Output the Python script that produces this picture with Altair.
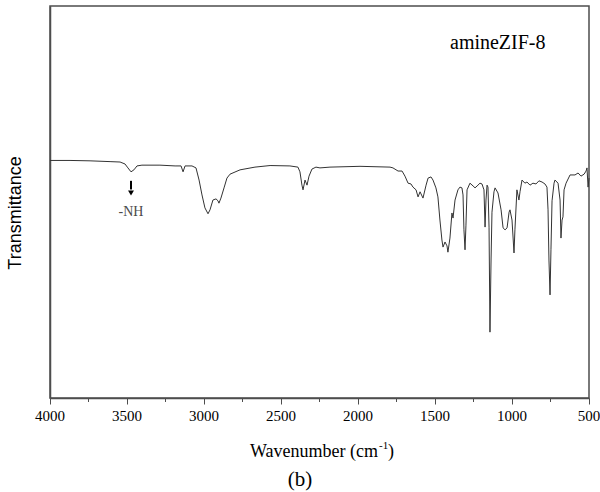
import altair as alt
import pandas as pd

# Wavenumber (cm-1) and transmittance (a.u.)
wavenumber = [4000, 3870, 3740, 3610, 3545, 3513, 3494, 3474, 3455, 3435, 3403, 3286, 3188, 3149, 3136, 3123,
              3078, 3052, 3032, 3013, 2994, 2974, 2961, 2942, 2922, 2909, 2903, 2890, 2870, 2851, 2831, 2766,
              2669, 2571, 2442, 2390, 2377, 2364, 2357, 2344, 2331, 2318, 2299, 2273, 2247, 2182, 1987, 1792,
              1773, 1740, 1714, 1695, 1675, 1656, 1643, 1623, 1610, 1597, 1578, 1558, 1545, 1526, 1513, 1494,
              1481, 1468, 1455, 1448, 1435, 1422, 1416, 1403, 1390, 1383, 1370, 1351, 1338, 1325, 1318, 1312,
              1305, 1299, 1292, 1273, 1253, 1240, 1221, 1208, 1195, 1182, 1175, 1169, 1162, 1156, 1149, 1143,
              1136, 1130, 1117, 1110, 1091, 1071, 1058, 1045, 1032, 1019, 1013, 1000, 987, 981, 968, 955,
              948, 935, 916, 903, 883, 864, 844, 825, 805, 786, 773, 766, 760, 753, 747, 740,
              727, 721, 708, 701, 688, 682, 675, 669, 662, 649, 623, 591, 571, 552, 532, 519,
              513, 506, 500]
transmittance = [60.6, 60.6, 60.5, 60.3, 60.2, 59.7, 58.7, 57.7, 58.2, 59.2, 59.4, 59.4, 59.2, 59.2, 57.7, 59.2,
                 59.2, 58.7, 55.6, 51.8, 48.5, 47.0, 48.0, 50.5, 50.8, 50.3, 49.7, 51.0, 53.6, 56.1, 57.1, 58.2,
                 58.9, 59.3, 59.2, 58.9, 57.7, 54.3, 53.1, 55.6, 54.3, 56.6, 58.4, 58.9, 58.7, 58.9, 59.1, 58.9,
                 58.7, 57.9, 57.9, 56.6, 54.8, 54.6, 53.8, 53.1, 51.3, 52.6, 51.0, 54.3, 56.1, 56.4, 55.6, 53.6,
                 51.3, 45.4, 40.3, 38.5, 39.8, 38.8, 37.2, 40.8, 47.2, 45.9, 50.5, 53.1, 53.8, 53.6, 51.8, 42.9,
                 37.8, 44.1, 53.1, 54.8, 54.1, 53.6, 54.3, 54.8, 54.6, 53.1, 43.6, 50.5, 54.3, 53.8, 43.4, 16.8,
                 35.2, 47.4, 52.6, 53.6, 52.3, 48.0, 43.4, 42.9, 43.4, 47.4, 48.0, 45.4, 37.0, 42.9, 53.1, 50.5,
                 52.6, 55.6, 54.8, 55.1, 54.3, 54.8, 54.6, 55.4, 55.1, 54.6, 53.8, 48.0, 35.2, 26.3, 37.8, 50.3,
                 54.8, 55.6, 55.1, 54.8, 50.5, 40.8, 45.4, 46.2, 53.1, 54.8, 56.9, 56.9, 57.4, 56.6, 57.1, 57.9,
                 58.7, 53.8, 56.1]

major_ticks = [4000, 3500, 3000, 2500, 2000, 1500, 1000, 500]
major_labels = ["4000", "3500", "3000", "2500", "2000", "1500", "1000", "500"]
minor_ticks = [3750, 3250, 2750, 2250, 1750, 1250, 750]

spec_df = pd.DataFrame({"wn": wavenumber, "T": transmittance})
minor_df = pd.DataFrame({"wn": minor_ticks})
major_df = pd.DataFrame({"wn": major_ticks, "lab": major_labels})

W, H = 539, 392
axis_col = "#4d4d4d"
serif = "Liberation Serif"
XT = "Wavenumber"
YT = "Transmittance"

xscale = alt.Scale(domain=[500, 4000], reverse=True, nice=False, zero=False)
yscale = alt.Scale(domain=[0, 100], nice=False, zero=False)

line = alt.Chart(spec_df).mark_line(color="#333333", strokeWidth=1).encode(
    x=alt.X("wn:Q", scale=xscale, title=None, axis=alt.Axis(values=major_ticks)),
    y=alt.Y("T:Q", scale=yscale, title=None),
    order=alt.Order("wn:Q", sort="descending"),
)

minor = alt.Chart(minor_df).mark_rule(color=axis_col, strokeWidth=1).encode(
    x=alt.X("wn:Q", scale=xscale, title=None),
    y=alt.value(H),
    y2=alt.value(H + 4),
)

tick_labels = alt.Chart(major_df).mark_text(
    font=serif, fontSize=15, color="black", baseline="middle", align="center").encode(
    x=alt.X("wn:Q", scale=xscale, title=None),
    y=alt.value(H + 18),
    text="lab:N",
)

ann_df = pd.DataFrame({"wn": [3474], "y1": [55.4], "y2": [53.2], "yh": [52.3], "yt": [47.4], "lab": ["-NH"]})
shaft = alt.Chart(ann_df).mark_rule(color="black", strokeWidth=2).encode(
    x=alt.X("wn:Q", scale=xscale, title=None),
    y=alt.Y("y1:Q", scale=yscale, title=None), y2="y2:Q")
head = alt.Chart(ann_df).mark_point(shape="triangle-down", filled=True, color="black", size=35, opacity=1).encode(
    x=alt.X("wn:Q", scale=xscale, title=None),
    y=alt.Y("yh:Q", scale=yscale, title=None))
nh = alt.Chart(ann_df).mark_text(font=serif, fontSize=14, color="#4a4a4a", baseline="middle").encode(
    x=alt.X("wn:Q", scale=xscale, title=None),
    y=alt.Y("yt:Q", scale=yscale, title=None), text="lab:N")

def label(txt, x, y, size, align="left", baseline="alphabetic", font=serif, angle=0):
    kw = dict(font=font, fontSize=size, color="black", align=align, baseline=baseline)
    if angle:
        kw["angle"] = angle
    return alt.Chart(pd.DataFrame({"t": [txt]})).mark_text(**kw).encode(
        x=alt.value(x), y=alt.value(y), text="t:N")

name = label("amineZIF-8", 400, 43, 20)
panel = label("(b)", 250, 474, 21, align="center", baseline="middle")
xt1 = label(XT + " (cm", 328, 451, 18, align="right")
xt2 = label("-1", 329, 443, 11)
xt3 = label(")", 338, 451, 18)
yt = label(YT, -34, 207, 18, align="center", baseline="middle", font="Liberation Sans", angle=270)

chart = alt.layer(line, minor, tick_labels, shaft, head, nh, name, panel, xt1, xt2, xt3, yt).properties(
    width=W, height=H,
    autosize=alt.AutoSizeParams(type="none"),
    padding={"left": 50, "top": 6, "right": 11, "bottom": 94},
).configure(background="white").configure_view(
    stroke=axis_col, strokeWidth=1.5
).configure_axisX(
    labels=False, grid=False, tickSize=6, tickColor=axis_col, tickWidth=1,
    domainColor=axis_col, domainWidth=1.5, title=None,
).configure_axisY(
    labels=False, ticks=False, grid=False, domainColor=axis_col, domainWidth=1.5, title=None,
)

chart.save("out.html", embed_options={"renderer": "svg", "actions": False})
